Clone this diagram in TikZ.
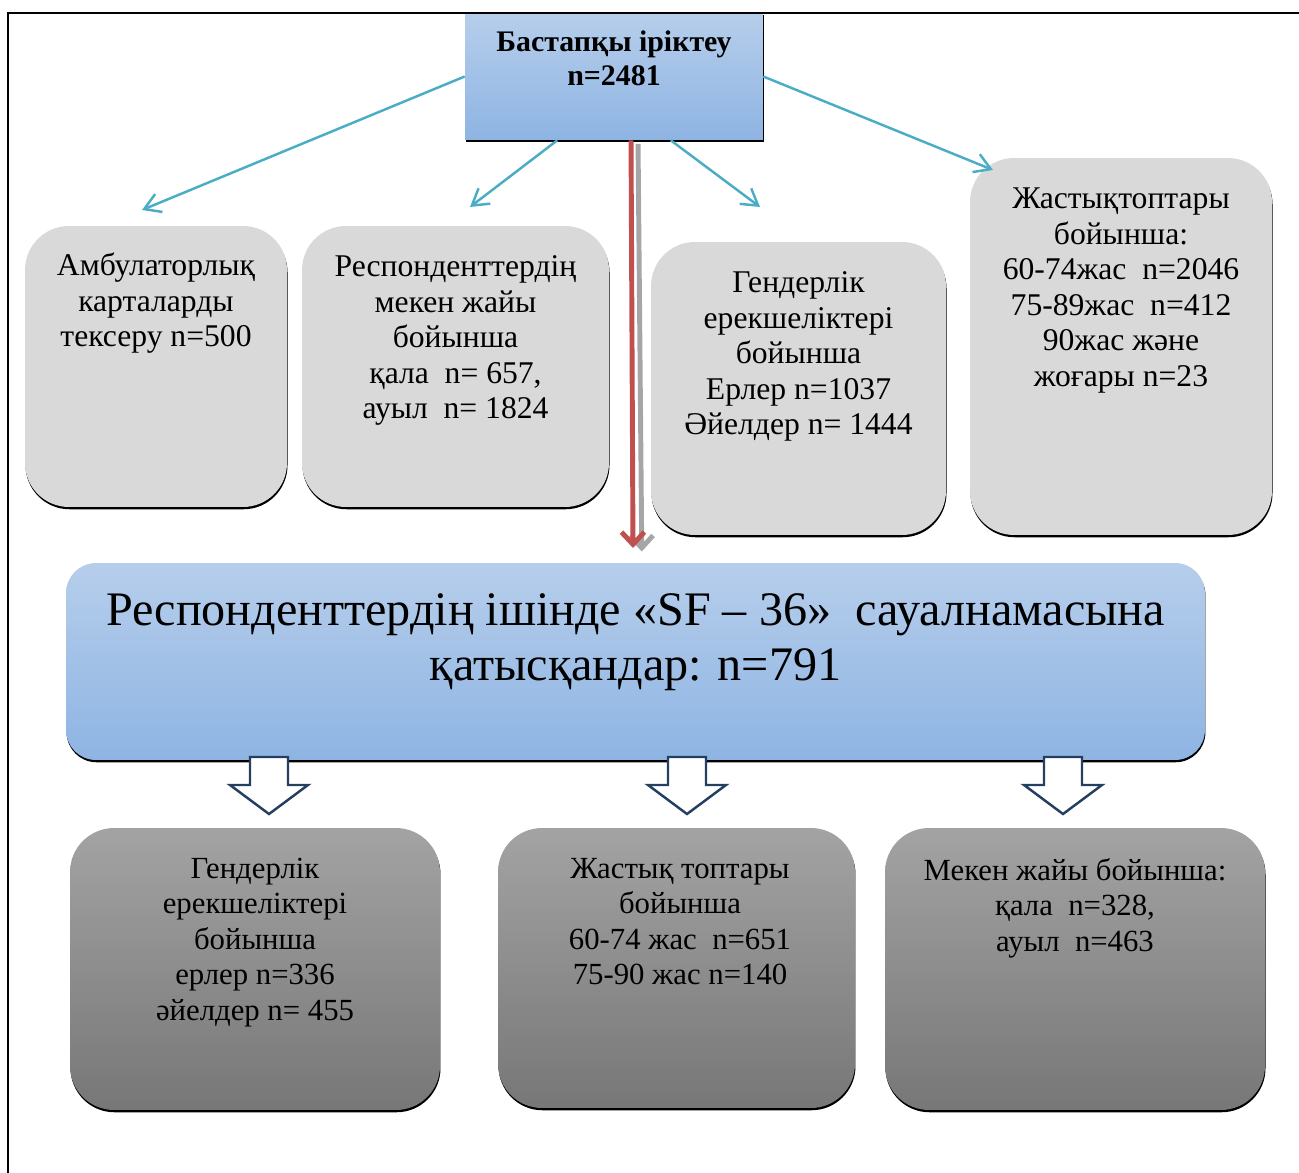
\documentclass[tikz,border=0pt]{standalone}
\usepackage{fontspec}
\setmainfont{Liberation Serif}
\usetikzlibrary{arrows.meta,shadows,calc}

\definecolor{cyanline}{HTML}{4BACC6}
\definecolor{redline}{HTML}{C0504D}
\definecolor{navyline}{HTML}{243F60}
\definecolor{bluetop}{HTML}{B6CEEB}
\definecolor{bluebot}{HTML}{8EB4E3}
\definecolor{greyfill}{HTML}{D9D9D9}
\definecolor{darktop}{HTML}{A3A3A3}
\definecolor{darkbot}{HTML}{777777}

\tikzset{
  edgeshadow/.style={drop shadow={shadow xshift=0.3pt,shadow yshift=-1.3pt,fill=black,opacity=1}},
  startbox/.style={rectangle, top color=bluetop, bottom color=bluebot, edgeshadow, inner sep=0pt},
  greybox/.style={rectangle, rounded corners=25pt, fill=greyfill, edgeshadow, inner sep=0pt},
  bigbox/.style={rectangle, rounded corners=17pt, top color=bluetop, bottom color=bluebot, edgeshadow, inner sep=0pt},
  darkbox/.style={rectangle, rounded corners=25pt, top color=darktop, bottom color=darkbot, edgeshadow, inner sep=0pt},
  boxtext/.style={anchor=north, align=center, inner sep=0pt, font=\fontsize{18}{20.2}\selectfont},
  cyanarrow/.style={draw=cyanline, line width=1.4pt, -{Straight Barb[length=9pt,width=11pt]}},
  blockarrow/.style={draw=navyline, fill=white, line width=1.4pt, line join=miter}
}

\begin{document}
\begin{tikzpicture}[x=0.02cm, y=-0.02cm]

  \useasboundingbox (0,0) rectangle (1299,1173);

  % top box
  \node[startbox, minimum width=5.96cm, minimum height=2.54cm] (start) at (614,76.5) {};
  \node[boxtext, font=\bfseries\fontsize{17}{19.4}\selectfont] (starttext) at ([yshift=-0.36cm]start.north)
    {Бастапқы іріктеу\\n=2481};

  % frame
  \draw[line width=1.7pt] (8,1173) -- (8,13) -- (1299,13);

  % first row of boxes
  \node[greybox, minimum width=5.24cm, minimum height=5.62cm] (amb) at (156,366.5) {};
  \node[greybox, minimum width=6.14cm, minimum height=5.62cm] (place) at (455.5,366.5) {};
  \node[greybox, minimum width=5.9cm, minimum height=5.86cm] (gender) at (798.5,388.5) {};
  \node[greybox, minimum width=6.04cm, minimum height=7.54cm] (age) at (1121,346.5) {};

  \node[boxtext] (ambtext) at ([yshift=-0.54cm]amb.north)
    {Амбулаторлық\\карталарды\\тексеру n=500};
  \node[boxtext] (placetext) at ([yshift=-0.6cm]place.north)
    {Респонденттердің\\мекен жайы\\бойынша\\қала~ n= 657,\\ауыл~ n= 1824};
  \node[boxtext] (gendertext) at ([yshift=-0.6cm]gender.north)
    {Гендерлік\\ерекшеліктері\\бойынша\\Ерлер n=1037\\Әйелдер n= 1444};
  \node[boxtext] (agetext) at ([yshift=-0.6cm]age.north)
    {Жастықтоптары\\бойынша:\\60-74жас~ n=2046\\75-89жас~ n=412\\90жас және\\жоғары n=23};

  % arrows from the top box
  \coordinate (tipamb) at (142,210);
  \coordinate (tipplace) at (470,207);
  \coordinate (tipgender) at (760,207);
  \coordinate (tipage) at (993,170);
  \draw[cyanarrow] (start.west) -- (tipamb);
  \draw[cyanarrow] ($(start.south west)!0.31!(start.south east)$) -- (tipplace);
  \draw[cyanarrow] ($(start.south west)!0.69!(start.south east)$) -- (tipgender);
  \draw[cyanarrow] (start.east) -- (tipage);

  % big box
  \node[bigbox, minimum width=22.78cm, minimum height=3.94cm] (sf) at (635.5,661.5) {};
  \node[boxtext, font=\fontsize{27.4}{31.3}\selectfont] (sftext) at ([yshift=-0.62cm]sf.north)
    {Респонденттердің ішінде «SF – 36»~ сауалнамасына\\қатысқандар: n=791};

  % red arrow with its shadow
  \coordinate (redtop) at ($(start.south west)!0.557!(start.south east)$);
  \coordinate (redtip) at (633,548);
  \draw[gray!70, line width=2.8pt, -{Straight Barb[length=7pt,width=13pt]}]
    ([xshift=4pt,yshift=-2pt]redtop) -- ([xshift=5pt,yshift=-2pt]redtip);
  \draw[redline, line width=2.8pt, -{Straight Barb[length=7pt,width=13pt]}]
    (redtop) -- (redtip);

  % block arrows
  \foreach \x in {269,687,1063} {
    \draw[blockarrow] (\x-19,757) -- (\x+19,757) -- (\x+19,785) -- (\x+39,785)
      -- (\x,814) -- (\x-39,785) -- (\x-19,785) -- cycle;
  }

  % bottom row of boxes
  \node[darkbox, minimum width=7.4cm, minimum height=5.64cm] (resgender) at (255,969) {};
  \node[darkbox, minimum width=7.14cm, minimum height=5.6cm] (resage) at (676.5,968) {};
  \node[darkbox, minimum width=7.6cm, minimum height=5.64cm] (resplace) at (1075,969) {};

  \node[boxtext, font=\fontsize{17.5}{20.2}\selectfont] (resgendertext) at ([yshift=-0.6cm]resgender.north)
    {Гендерлік\\ерекшеліктері\\бойынша\\ерлер n=336\\әйелдер n= 455};
  \node[boxtext, font=\fontsize{17.5}{20.2}\selectfont] (resagetext) at ([xshift=0.07cm,yshift=-0.6cm]resage.north)
    {Жастық топтары\\бойынша\\60-74 жас~ n=651\\75-90 жас n=140};
  \node[boxtext, font=\fontsize{17.5}{20.2}\selectfont] (resplacetext) at ([yshift=-0.6cm]resplace.north)
    {Мекен жайы бойынша:\\қала~ n=328,\\ауыл~ n=463};

\end{tikzpicture}
\end{document}
